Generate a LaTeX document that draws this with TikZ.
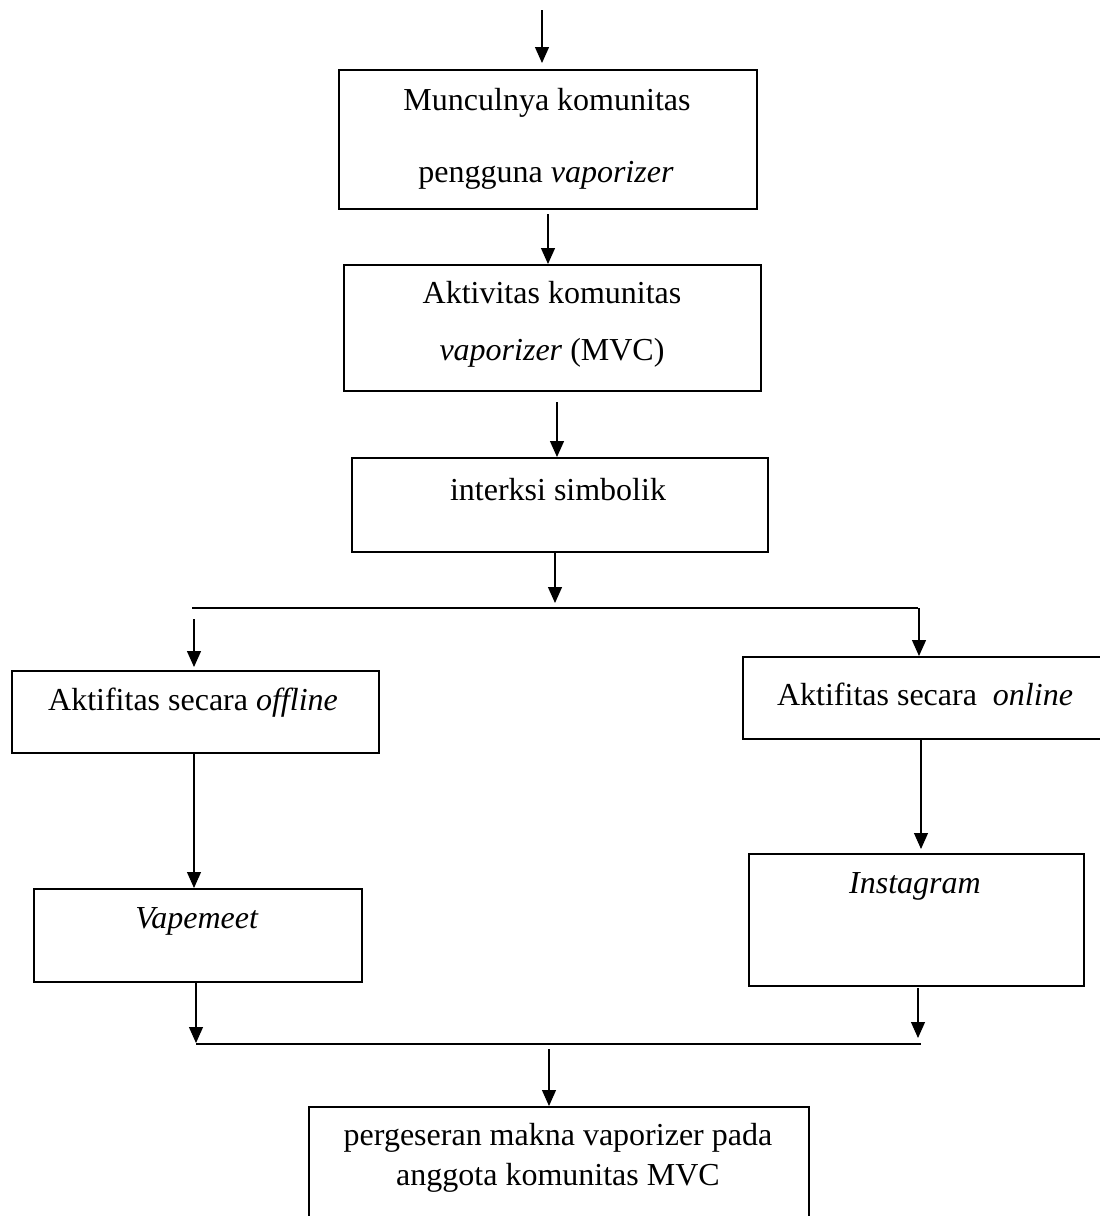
\documentclass[tikz,border=0pt]{standalone}
\usepackage{fontspec}
\setmainfont{Liberation Serif}
\usetikzlibrary{arrows.meta}
\begin{document}
\begin{tikzpicture}[x=1pt,y=-1pt,
  box/.style={draw, line width=1.6pt, anchor=north west, inner sep=0pt},
  txt/.style={anchor=base, inner sep=0pt, font=\fontsize{32}{38}\selectfont},
  arr/.style={line width=1.3pt, -{Triangle[length=16pt,width=14pt]}},
  thin/.style={line width=1.1pt}]
\useasboundingbox (0,0) rectangle (1100,1216);
\clip (0,0) rectangle (1100,1216);
\fill[white] (0,0) rectangle (1100,1216);

% boxes
\node[box, minimum width=418pt, minimum height=139pt] (b1) at (338,69) {};
\node[box, minimum width=417pt, minimum height=126pt] (b2) at (343,264) {};
\node[box, minimum width=416pt, minimum height=94pt] (b3) at (351,457) {};
\node[box, minimum width=367pt, minimum height=82pt] (off) at (11,670) {};
\node[box, minimum width=380pt, minimum height=82pt] (on) at (742,656) {};
\node[box, minimum width=328pt, minimum height=93pt] (vm) at (33,888) {};
\node[box, minimum width=335pt, minimum height=132pt] (ig) at (748,853) {};
\node[box, minimum width=500pt, minimum height=140pt] (fin) at (308,1106) {};

% texts
\node[txt] (t1a) at (547,110) {Munculnya komunitas};
\node[txt] (t1b) at (546,182) {pengguna \textit{vaporizer}};
\node[txt] (t2a) at (552,303) {Aktivitas komunitas};
\node[txt] (t2b) at (552,360) {\textit{vaporizer} (MVC)};
\node[txt] (t3) at (558,500) {interksi simbolik};
\node[txt] (toff) at (193,710) {Aktifitas secara \textit{offline}};
\node[txt] (ton) at (925,705) {Aktifitas secara\ \ \textit{online}};
\node[txt] (tvm) at (197,928) {\textit{Vapemeet}};
\node[txt] (tig) at (915,893) {\textit{Instagram}};
\node[txt] (tfa) at (558,1145) {pergeseran makna vaporizer pada};
\node[txt] (tfb) at (558,1185) {anggota komunitas MVC};

% coordinates
\coordinate (a0) at (542,10);
\coordinate (a1) at (548,214);
\coordinate (a2) at (557,402);
\coordinate (a3) at (555,551);
\coordinate (a3e) at (555,603);
\coordinate (j1l) at (192,608);
\coordinate (j1r) at (918,608);
\coordinate (a4) at (194,619);
\coordinate (a5) at (919,608);
\coordinate (a6) at (194,752);
\coordinate (a7) at (921,738);
\coordinate (a8) at (196,981);
\coordinate (a8e) at (196,1043);
\coordinate (a9) at (918,988);
\coordinate (a9e) at (918,1038);
\coordinate (j2l) at (196,1044);
\coordinate (j2r) at (921,1044);
\coordinate (a10) at (549,1049);

% connectors
\draw[arr, shorten >=6pt] (a0) -- (a0 |- b1.north);
\draw[arr] (a1) -- (a1 |- b2.north);
\draw[arr] (a2) -- (a2 |- b3.north);
\draw[arr] (a3) -- (a3e);
\draw[thin] (j1l) -- (j1r);
\draw[arr, shorten >=3pt] (a4) -- (a4 |- off.north);
\draw[arr] (a5) -- (a5 |- on.north);
\draw[arr, line width=1.1pt] (a6) -- (a6 |- vm.north);
\draw[arr, line width=1.1pt, shorten >=4pt] (a7) -- (a7 |- ig.north);
\draw[arr, line width=1.1pt] (a8) -- (a8e);
\draw[arr, line width=1.1pt] (a9) -- (a9e);
\draw[thin] (j2l) -- (j2r);
\draw[arr, line width=1.1pt] (a10) -- (a10 |- fin.north);
\end{tikzpicture}
\end{document}
